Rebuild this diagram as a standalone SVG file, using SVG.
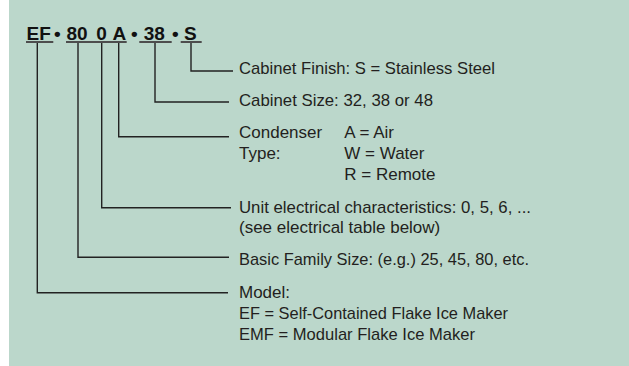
<svg xmlns="http://www.w3.org/2000/svg" width="629" height="366" viewBox="0 0 629 366">
<style>
.bg{fill:#bbd7cb}
.t{font-family:"Liberation Sans",Arial,sans-serif;font-size:17px;fill:#231f20}
.h{font-family:"Liberation Sans",Arial,sans-serif;font-size:19px;font-weight:bold;fill:#111}
.ul{stroke:#4d4d4d;stroke-width:2;fill:none}
.c{stroke:#222;stroke-width:1.4;fill:none}
</style>
<rect class="bg" x="9" y="0" width="620" height="366"/>
<g id="code">
<text class="h" x="26.5" y="40">EF</text>
<text class="h" x="54" y="40">•</text>
<text class="h" x="66.5" y="40">80</text>
<text class="h" x="96.3" y="40">0</text>
<text class="h" x="112.5" y="40">A</text>
<text class="h" x="131" y="40">•</text>
<text class="h" x="143.8" y="40">38</text>
<text class="h" x="172" y="40">•</text>
<text class="h" x="184" y="40">S</text>
<path class="ul" d="M26 42H53.3M66 42H126.7M139.3 42H171.7M180.7 42H201.7"/>
</g>
<g id="connectors">
<path class="c" d="M191 43V71H233"/>
<path class="c" d="M155 43V102H229"/>
<path class="c" d="M118.7 43V136.7H229"/>
<path class="c" d="M101.7 43V207.7H231"/>
<path class="c" d="M78 43V257.3H229"/>
<path class="c" d="M37.3 43V292.7H228"/>
</g>
<g id="finish">
<text class="t" x="239" y="74" textLength="256" lengthAdjust="spacingAndGlyphs">Cabinet Finish: S = Stainless Steel</text>
</g>
<g id="size">
<text class="t" x="239" y="105.7" textLength="194" lengthAdjust="spacingAndGlyphs">Cabinet Size: 32, 38 or 48</text>
</g>
<g id="condenser">
<text class="t" x="239" y="138.3">Condenser</text>
<text class="t" x="239" y="158.7">Type:</text>
<text class="t" x="344.3" y="138.3">A = Air</text>
<text class="t" x="344.3" y="158.7">W = Water</text>
<text class="t" x="344.3" y="180">R = Remote</text>
</g>
<g id="electrical">
<text class="t" x="239" y="213.3" textLength="292" lengthAdjust="spacingAndGlyphs">Unit electrical characteristics: 0, 5, 6, ...</text>
<text class="t" x="239" y="233.3">(see electrical table below)</text>
</g>
<g id="family">
<text class="t" x="239" y="265" textLength="290" lengthAdjust="spacingAndGlyphs">Basic Family Size: (e.g.) 25, 45, 80, etc.</text>
</g>
<g id="model">
<text class="t" x="239" y="298.3">Model:</text>
<text class="t" x="239" y="319.3" textLength="269" lengthAdjust="spacingAndGlyphs">EF = Self-Contained Flake Ice Maker</text>
<text class="t" x="239" y="340.3" textLength="236" lengthAdjust="spacingAndGlyphs">EMF = Modular Flake Ice Maker</text>
</g>
</svg>
